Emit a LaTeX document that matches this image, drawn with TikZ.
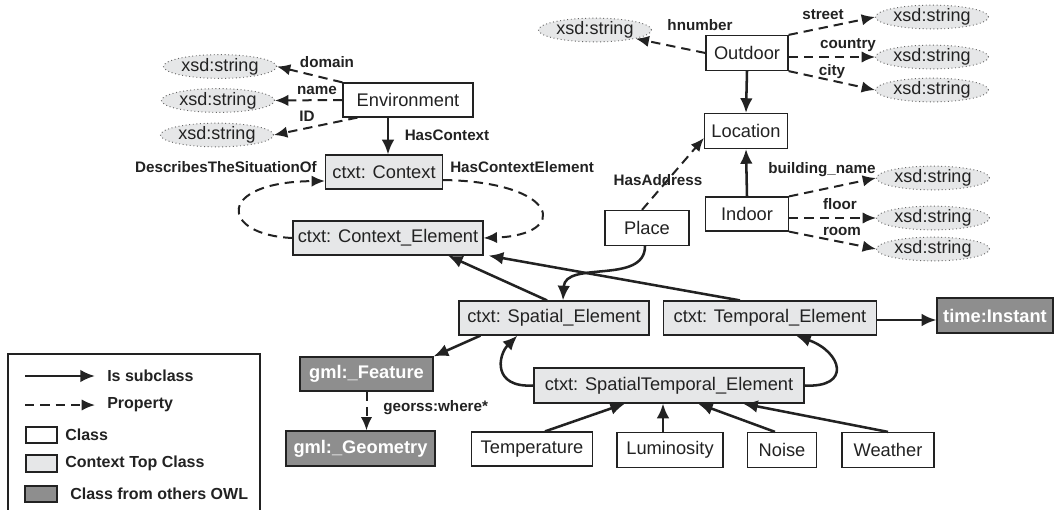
\documentclass[tikz,border=0pt]{standalone}
\usepackage{fontspec}
\setmainfont{Liberation Sans}
\usetikzlibrary{arrows.meta,calc,shapes.geometric}
\definecolor{topgray}{HTML}{E6E7E8}
\definecolor{owlgray}{HTML}{8E8E8E}
\definecolor{ink}{HTML}{222222}
\tikzset{
  boxbase/.style={draw=ink, line width=0.9pt, inner sep=0pt, text=ink, font=\fontsize{13.7}{15}\selectfont},
  cls/.style={boxbase, fill=white},
  topcls/.style={boxbase, fill=topgray},
  owlcls/.style={boxbase, fill=owlgray, text=white, font=\fontsize{13.7}{15}\selectfont\bfseries},
  xsd/.style={ellipse, draw=black!60, dotted, line width=0.7pt, fill=topgray, inner sep=0pt, minimum width=84.75pt, minimum height=15.5pt, text=ink, font=\fontsize{13.5}{15}\selectfont},
  lbl/.style={text=ink, inner sep=0pt, font=\fontsize{11.4}{13}\selectfont\bfseries},
  sub/.style={draw=ink, line width=1.9pt, -{Latex[length=11pt,width=9.5pt]}},
  prop/.style={draw=ink, line width=1.5pt, dash pattern=on 7pt off 4.5pt, -{Latex[length=10pt,width=8.5pt]}},
}
\begin{document}
\begin{tikzpicture}[x=0.75pt,y=-0.75pt]
\useasboundingbox (0,0) rectangle (1054,510);
% class nodes
\node[cls, minimum width=97.5pt, minimum height=25.5pt] (env) at (408,100) {Environment};
\node[topcls, minimum width=87.75pt, minimum height=25.5pt] (ctx) at (384,172) {ctxt: Context};
\node[topcls, minimum width=142.5pt, minimum height=25.5pt] (ce) at (388,238) {ctxt: Context\_Element};
\node[cls, minimum width=62.25pt, minimum height=26.25pt] (loc) at (746,131) {Location};
\node[cls, minimum width=61.5pt, minimum height=26.25pt] (out) at (747,53) {Outdoor};
\node[cls, minimum width=62.25pt, minimum height=25.5pt] (ind) at (747,214) {Indoor};
\node[cls, minimum width=63pt, minimum height=26.25pt] (place) at (647,228) {Place};
\node[topcls, minimum width=142.5pt, minimum height=25.5pt] (se) at (554,318) {ctxt: Spatial\_Element};
\node[topcls, minimum width=159.75pt, minimum height=25.5pt] (te) at (770,318) {ctxt: Temporal\_Element};
\node[owlcls, minimum width=87pt, minimum height=26.25pt] (ti) at (995,315.5) {time:Instant};
\node[topcls, minimum width=202.5pt, minimum height=26.25pt] (ste) at (669,385.5) {ctxt: SpatialTemporal\_Element};
\node[cls, minimum width=90.75pt, minimum height=25.5pt] (temp) at (532,449) {Temperature};
\node[cls, minimum width=79.5pt, minimum height=26.25pt] (lum) at (670,450) {Luminosity};
\node[cls, minimum width=51.75pt, minimum height=26.25pt] (noise) at (782,450) {Noise};
\node[cls, minimum width=69pt, minimum height=26.25pt] (weath) at (888,450) {Weather};
\node[owlcls, minimum width=99.75pt, minimum height=25.5pt] (feat) at (366.5,374) {gml:\_Feature};
\node[owlcls, minimum width=111.75pt, minimum height=26.25pt] (geom) at (360.5,448.5) {gml:\_Geometry};
% xsd ellipses
\node[xsd] (xd) at (220,66.5) {xsd:string};
\node[xsd] (xn) at (218,100.5) {xsd:string};
\node[xsd] (xi) at (217,135) {xsd:string};
\node[xsd] (xh) at (595,30) {xsd:string};
\node[xsd] (xs) at (932,17) {xsd:string};
\node[xsd] (xc) at (932,57) {xsd:string};
\node[xsd] (xy) at (932,90) {xsd:string};
\node[xsd] (xb) at (933,178) {xsd:string};
\node[xsd] (xf) at (933,218) {xsd:string};
\node[xsd] (xr) at (933,249) {xsd:string};
% Environment properties
\draw[prop] (env.north west) -- (xd.east);
\draw[prop] (env.west) -- (xn.east);
\draw[prop] ($(env.south west)+(15,0)$) -- (xi.east);
\draw[sub] ($(env.south)+(-20,0)$) -- ($(ctx.north)+(4,0)$);
% context loop
\draw[prop] (ce.west) .. controls (220,235) and (215,182) .. ($(ctx.west)+(0,9)$);
\draw[prop] ($(ctx.east)+(0,8)$) .. controls (560,182) and (570,235) .. (ce.east);
% Outdoor / Indoor
\draw[prop] (out.west) -- (xh.-12);
\draw[prop] (out.north east) -- (xs.west);
\draw[prop] ($(out.east)+(0,4)$) -- (xc.west);
\draw[prop] (out.south east) -- (xy.west);
\draw[prop] (ind.north east) -- (xb.west);
\draw[prop] ($(ind.east)+(0,4)$) -- (xf.west);
\draw[prop] (ind.south east) -- (xr.west);
\draw[sub] (out.south) -- (loc.north);
\draw[sub] (ind.north) -- (loc.south);
\draw[prop] ($(place.north)+(-5,0)$) -- ($(loc.west)+(0,7)$);
% Place to Spatial
\draw[sub] ($(place.south)+(-2,0)$) .. controls (645,285) and (565,260) .. ($(se.north)+(9,0)$);
% to Context_Element
\draw[sub] ($(se.north)+(-7,0)$) -- ($(ce.south)+(60,0)$);
\draw[sub] ($(te.north)+(-30,0)$) -- ($(ce.south east)+(5,0)$);
% Spatial to Feature
\draw[sub] ($(se.south west)+(22,0)$) -- (feat.north east);
\draw[prop] (feat.south) -- (feat.south |- geom.north);
% Temporal to time:Instant
\draw[sub] ($(te.east)+(0,2)$) -- ($(ti.west)+(0,4.5)$);
% SpatialTemporal curves
\draw[sub] (ste.west) .. controls (492,388) and (498,355) .. ($(se.south west)+(59,0)$);
\draw[sub] (ste.east) .. controls (852,388) and (842,352) .. ($(te.south)+(26,0)$);
% sensors
\draw[sub] ($(temp.north)+(13,0)$) -- ($(ste.south)+(-44,0)$);
\draw[sub] ($(lum.north)+(-7,0)$) -- ($(ste.south)+(-6,0)$);
\draw[sub] ($(noise.north)+(-7,0)$) -- ($(ste.south)+(29,0)$);
\draw[sub] (weath.north) -- ($(ste.south)+(74,0)$);
% labels
\node[lbl] (ldomain) at (327,62) {domain};
\node[lbl] (lname) at (317,90) {name};
\node[lbl] (lid) at (307,116) {ID};
\node[lbl] (lhas) at (447,135) {HasContext};
\node[lbl, anchor=east] (ldesc) at (317,167) {DescribesTheSituationOf};
\node[lbl, anchor=west] (lhce) at (450,167) {HasContextElement};
\node[lbl] (lhn) at (700,25) {hnumber};
\node[lbl] (lst) at (823,15) {street};
\node[lbl] (lco) at (848,45) {country};
\node[lbl] (lci) at (832,72) {city};
\node[lbl] (lbn) at (822,170) {building\_name};
\node[lbl] (lfl) at (840,204) {floor};
\node[lbl] (lro) at (842,231) {room};
\node[lbl] (lha) at (658,180) {HasAddress};
\node[lbl, anchor=west] (lgeo) at (383,408) {georss:where*};
% legend
\draw[draw=ink, line width=0.9pt] (8,510) -- (8,354) -- (260,354) -- (260,510);
\coordinate (a1) at (25,376);
\coordinate (a2) at (95,376);
\coordinate (b1) at (25,405);
\coordinate (b2) at (95,405);
\draw[sub] (a1) -- (a2);
\draw[prop] (b1) -- (b2);
\node[cls, minimum width=23.25pt, minimum height=12pt] (sw1) at (41.5,435) {};
\node[topcls, minimum width=23.25pt, minimum height=12.75pt] (sw2) at (41.5,463.5) {};
\node[owlcls, minimum width=24pt, minimum height=12pt] (sw3) at (41,494) {};
\node[lbl, anchor=west, font=\fontsize{12}{14}\selectfont\bfseries] (t1) at (107,376) {Is subclass};
\node[lbl, anchor=west, font=\fontsize{12}{14}\selectfont\bfseries] (t2) at (107,405) {Property};
\node[lbl, anchor=west, font=\fontsize{12}{14}\selectfont\bfseries] (t3) at (65,435) {Class};
\node[lbl, anchor=west, font=\fontsize{12}{14}\selectfont\bfseries] (t4) at (65,463) {Context Top Class};
\node[lbl, anchor=west, font=\fontsize{12}{14}\selectfont\bfseries] (t5) at (70,494) {Class from others OWL};
\end{tikzpicture}
\end{document}
